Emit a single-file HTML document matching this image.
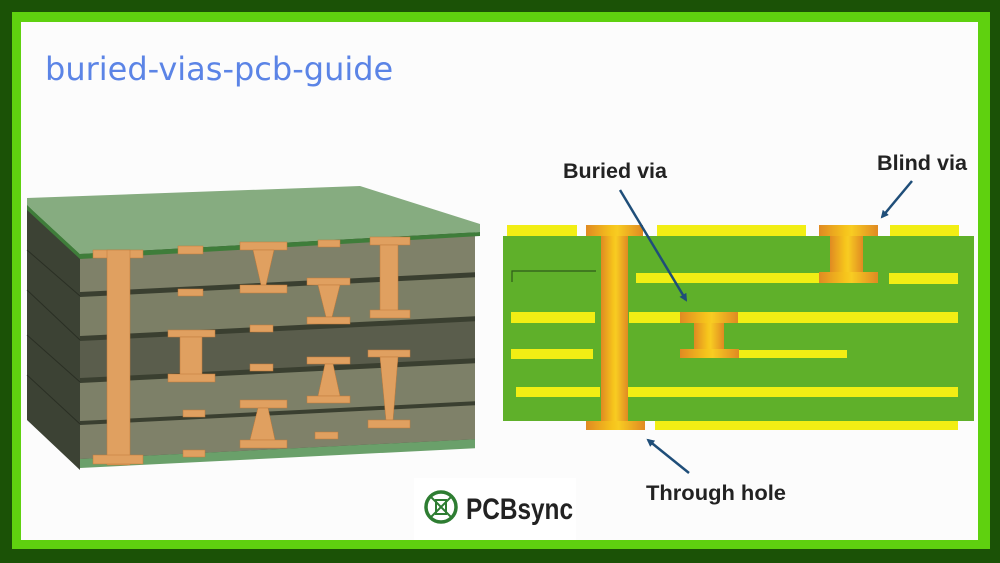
<!DOCTYPE html>
<html><head><meta charset="utf-8"><style>
html,body{margin:0;padding:0;width:1000px;height:563px;overflow:hidden;background:#1b5206;}
</style></head><body>
<svg width="1000" height="563" viewBox="0 0 1000 563" xmlns="http://www.w3.org/2000/svg" font-family="Liberation Sans, sans-serif">
<defs>
<linearGradient id="cu" x1="0" x2="1" y1="0" y2="0">
<stop offset="0" stop-color="#e08a22"/><stop offset="0.45" stop-color="#f6c41c"/><stop offset="0.55" stop-color="#f8cc22"/><stop offset="1" stop-color="#e08a22"/>
</linearGradient>
<marker id="ah" markerWidth="8" markerHeight="8" refX="6" refY="4" orient="auto" markerUnits="userSpaceOnUse"><path d="M0,0 L8,4 L0,8 z" fill="#1f4e79"/></marker>
</defs>
<rect x="0" y="0" width="1000" height="563" fill="#1b5206"/>
<rect x="12" y="12" width="978" height="537" fill="#5fd10f"/>
<rect x="21" y="22" width="957" height="518" fill="#fcfcfc"/>
<text x="45" y="80" font-family="DejaVu Sans, sans-serif" font-size="32" fill="#5b84e6">buried-vias-pcb-guide</text>

<!-- left 3D board -->
<polygon points="27,205 80,258 80,470 27,420" fill="#3c4234"/>
<g stroke="#2a2f24" stroke-width="1">
<line x1="27" y1="250" x2="80" y2="296"/><line x1="27" y1="290" x2="80" y2="340"/>
<line x1="27" y1="335" x2="80" y2="382"/><line x1="27" y1="375" x2="80" y2="424"/>
</g>
<g transform="matrix(1,-0.05,0,1,0,4)">
<rect x="80" y="252" width="395" height="212" fill="#3a3f30"/>
<rect x="80" y="254" width="395" height="38" fill="#7f8169"/>
<rect x="80" y="297" width="395" height="39" fill="#7c7f66"/>
<rect x="80" y="341" width="395" height="37" fill="#5a5d4c"/>
<rect x="80" y="383" width="395" height="38" fill="#7d8068"/>
<rect x="80" y="425" width="395" height="34" fill="#7f8169"/>
<rect x="80" y="459" width="395" height="9" fill="#6aa06a"/>
</g>
<polygon points="27,198 360,186 480,224 480,232 80,254 27,205" fill="#86ac80"/>
<polygon points="27,205 80,254 480,232 480,236 80,259 27,210" fill="#3f7d3a"/>
<g fill="#e0a060" stroke="#c07a3a" stroke-width="0.5">
<rect x="93" y="250" width="50" height="8"/><rect x="107" y="250" width="23" height="215"/><rect x="93" y="455" width="50" height="9"/>
<rect x="178" y="246" width="25" height="8"/><rect x="178" y="289" width="25" height="7"/>
<rect x="250" y="325" width="23" height="7"/><rect x="250" y="364" width="23" height="7"/>
<rect x="183" y="410" width="22" height="7"/><rect x="183" y="450" width="22" height="7"/>
<rect x="318" y="240" width="22" height="7"/><rect x="315" y="432" width="23" height="7"/>
<rect x="240" y="242" width="47" height="8"/><polygon points="253,250 274,250 266,285 261,285"/><rect x="240" y="285" width="47" height="8"/>
<rect x="307" y="278" width="43" height="7"/><polygon points="318,285 340,285 332,317 326,317"/><rect x="307" y="317" width="43" height="7"/>
<rect x="370" y="237" width="40" height="8"/><rect x="380" y="245" width="18" height="66"/><rect x="370" y="310" width="40" height="8"/>
<rect x="168" y="330" width="47" height="7"/><rect x="180" y="337" width="22" height="38"/><rect x="168" y="374" width="47" height="8"/>
<rect x="307" y="357" width="43" height="7"/><polygon points="325,364 333,364 340,396 318,396"/><rect x="307" y="396" width="43" height="7"/>
<rect x="368" y="350" width="42" height="7"/><polygon points="380,357 398,357 393,420 386,420"/><rect x="368" y="420" width="42" height="8"/>
<rect x="240" y="400" width="47" height="8"/><polygon points="258,408 268,408 275,440 250,440"/><rect x="240" y="440" width="47" height="8"/>
</g>

<!-- right diagram -->
<rect x="503" y="236" width="471" height="185" fill="#5fb02a"/>
<g fill="#f2ee14">
<rect x="507" y="225" width="70" height="11"/><rect x="657" y="225" width="149" height="11"/><rect x="890" y="225" width="69" height="11"/>
<rect x="655" y="421" width="303" height="9"/>
<rect x="636" y="273" width="184" height="10"/><rect x="889" y="273" width="69" height="11"/>
<rect x="511" y="312" width="84" height="11"/><rect x="629" y="312" width="52" height="11"/><rect x="738" y="312" width="220" height="11"/>
<rect x="511" y="349" width="82" height="10"/><rect x="739" y="350" width="108" height="8"/>
<rect x="516" y="387" width="84" height="10"/><rect x="628" y="387" width="330" height="10"/>
</g>
<path d="M512,282 V271 H596" stroke="#2f5a1a" stroke-width="1.2" fill="none"/>
<g fill="url(#cu)">
<rect x="586" y="225" width="57" height="11"/><rect x="601" y="236" width="27" height="185"/><rect x="586" y="421" width="59" height="9"/>
<rect x="819" y="225" width="59" height="11"/><rect x="830" y="236" width="33" height="37"/><rect x="819" y="272" width="59" height="11"/>
<rect x="680" y="312" width="58" height="11"/><rect x="694" y="323" width="30" height="27"/><rect x="680" y="349" width="59" height="9"/>
</g>
<g stroke="#1f4e79" stroke-width="2.5" marker-end="url(#ah)">
<line x1="620" y1="190" x2="686" y2="300"/>
<line x1="912" y1="181" x2="882" y2="217"/>
<line x1="689" y1="473" x2="648" y2="440"/>
</g>
<g font-family="Liberation Sans Narrow, Liberation Sans, sans-serif" font-size="21" fill="#222" font-weight="bold" text-anchor="middle">
<text x="615" y="178" textLength="104" lengthAdjust="spacingAndGlyphs">Buried via</text>
<text x="922" y="170" textLength="90" lengthAdjust="spacingAndGlyphs">Blind via</text>
<text x="716" y="500" textLength="140" lengthAdjust="spacingAndGlyphs">Through hole</text>
</g>

<!-- logo -->
<rect x="414" y="478" width="162" height="62" fill="#ffffff"/>
<circle cx="441" cy="507" r="15" fill="none" stroke="#2e7d32" stroke-width="3.5"/>
<g stroke="#2e7d32" stroke-width="2" fill="none">
<line x1="430" y1="496" x2="452" y2="518"/><line x1="452" y1="496" x2="430" y2="518"/>
<rect x="436" y="500" width="10" height="14"/>
</g>
<text x="466" y="519" font-size="30" font-weight="bold" fill="#222" textLength="107" lengthAdjust="spacingAndGlyphs">PCBsync</text>
</svg>
</body></html>
